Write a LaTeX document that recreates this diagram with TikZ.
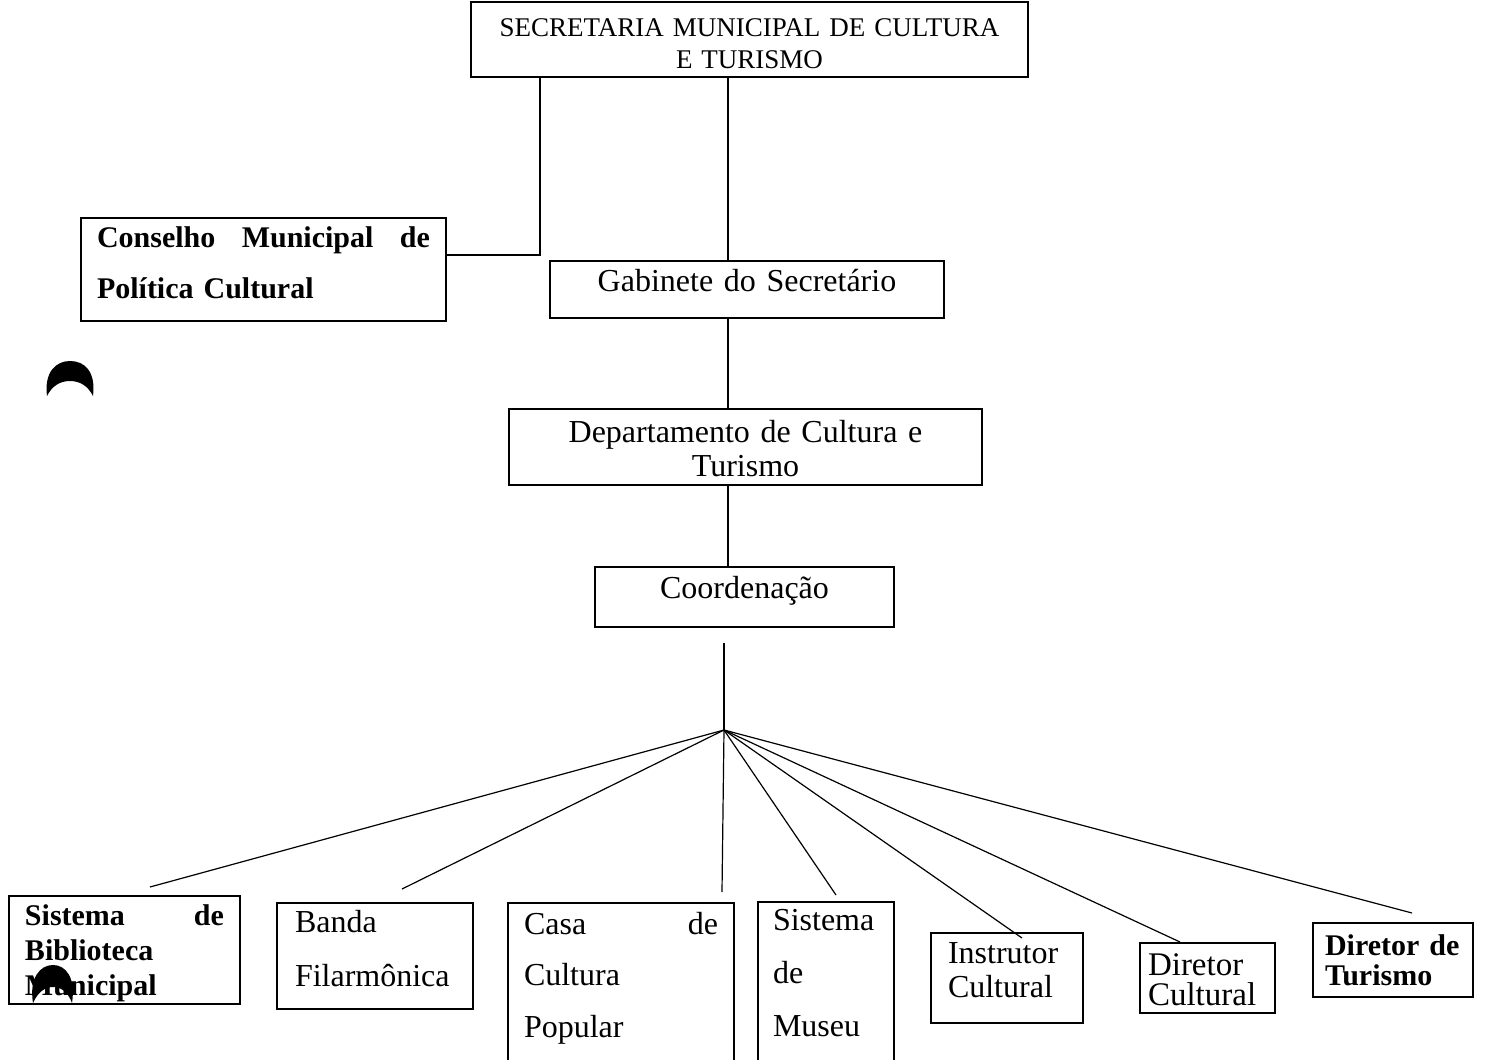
\documentclass[tikz,border=0pt]{standalone}
\usepackage{fontspec}
\setmainfont{Liberation Serif}
\usetikzlibrary{positioning,calc}
\tikzstyle{box} = [rectangle, draw, line width=0.7pt, anchor=north west, inner ysep=0pt, outer sep=0pt]
\tikzstyle{wire} = [line width=0.6pt]

\begin{document}
\begin{tikzpicture}[x=0.5pt, y=-0.5pt]
    \useasboundingbox (0,0) rectangle (1495,1060);
    \clip (0,0) rectangle (1495,1060);

    % upper chain
    \node[box, text width=268.5pt, inner xsep=5pt, align=center, text height=17pt, text depth=20.5pt, font=\fontsize{13.5}{16.5}\selectfont] (sec) at (471,2) {SECRETARIA MUNICIPAL DE CULTURA\\E TURISMO};
    \node[box, text width=166.5pt, inner xsep=8pt, align=left, text height=14.5pt, text depth=37pt, font=\bfseries\fontsize{15}{25.5}\selectfont] (cons) at (81,218) {Conselho\hfill Municipal\hfill de\\Política Cultural};
    \node[box, text width=187pt, inner xsep=5pt, align=center, text height=15pt, text depth=13.5pt, font=\fontsize{16}{19}\selectfont] (gab) at (550,261) {Gabinete do Secretário};
    \node[box, text width=226.5pt, inner xsep=5pt, align=center, text height=16.5pt, text depth=21.5pt, font=\fontsize{16}{17}\selectfont] (dep) at (509,409) {Departamento de Cultura e\\Turismo};
    \node[box, text width=139.5pt, inner xsep=5pt, align=center, text height=15.5pt, text depth=14.5pt, font=\fontsize{16}{19}\selectfont] (coord) at (595,567) {Coordenação};

    % lower row
    \node[box, text width=99.5pt, inner xsep=8pt, align=left, text height=14.5pt, text depth=39.5pt, font=\bfseries\fontsize{15}{17.5}\selectfont] (bib) at (9,896) {Sistema\hfill de\\Biblioteca\\Municipal};
    \node[box, text width=80pt, inner xsep=9pt, align=left, text height=14.5pt, text depth=38.5pt, font=\fontsize{16}{27}\selectfont] (banda) at (277,903) {Banda\\Filarmônica};
    \node[box, text width=97pt, inner xsep=8pt, align=left, text height=15.5pt, text depth=68pt, font=\fontsize{16}{25.75}\selectfont] (casa) at (508,903) {Casa\hfill de\\Cultura\\Popular};
    \node[box, text width=53pt, inner xsep=7.5pt, align=left, text height=14pt, text depth=70pt, font=\fontsize{16}{26.5}\selectfont] (museu) at (758,902) {Sistema\\de\\Museu};
    \node[box, text width=59pt, inner xsep=8.5pt, align=left, text height=15pt, text depth=30pt, font=\fontsize{16}{17}\selectfont] (instr) at (931,933) {Instrutor\\Cultural};
    \node[box, text width=59.5pt, inner xsep=4pt, align=left, text height=16pt, text depth=19pt, font=\fontsize{16.5}{15}\selectfont] (dircult) at (1140,943) {Diretor\\Cultural};
    \node[box, text width=68pt, inner xsep=6pt, align=left, text height=16pt, text depth=21pt, font=\bfseries\fontsize{15}{15}\selectfont] (dirtur) at (1313,923) {Diretor de\\Turismo};

    % connectors
    \coordinate (jn) at (540,255);
    \coordinate (sp) at (728,0);
    \draw[wire] (sec.south -| jn) |- (cons.east |- jn);
    \draw[wire] (sec.south -| sp) -- (gab.north -| sp);
    \draw[wire] (gab.south -| sp) -- (dep.north -| sp);
    \draw[wire] (dep.south -| sp) -- (coord.north -| sp);

    \coordinate (hubtop) at (724,643);
    \coordinate (hub) at (724,730);
    \coordinate (eBib) at (150,887);
    \coordinate (eBanda) at (402,889);
    \coordinate (eCasa) at (722,892);
    \coordinate (eMuseu) at (836,895);
    \coordinate (eInstr) at (1022,938);
    \coordinate (eDirC) at (1180,942);
    \coordinate (eDirT) at (1412,913);
    \draw[wire] (hubtop) -- (hub);
    \foreach \e in {eBib,eBanda,eCasa,eMuseu,eInstr,eDirC,eDirT}
        \draw[wire] (hub) -- (\e);

    % punch marks
    \fill (47,396) .. controls (44,372) and (56,361) .. (70,361) .. controls (85,361) and (96,372) .. (93,396) .. controls (88,386) and (80,381) .. (70,381) .. controls (60,381) and (52,386) .. (47,396) -- cycle;
    \fill (33,1003) .. controls (29,978) and (40,965) .. (53,965) .. controls (66,965) and (76,978) .. (72,1003) .. controls (68,992) and (61,987) .. (53,987) .. controls (45,987) and (38,992) .. (33,1003) -- cycle;
\end{tikzpicture}
\end{document}
